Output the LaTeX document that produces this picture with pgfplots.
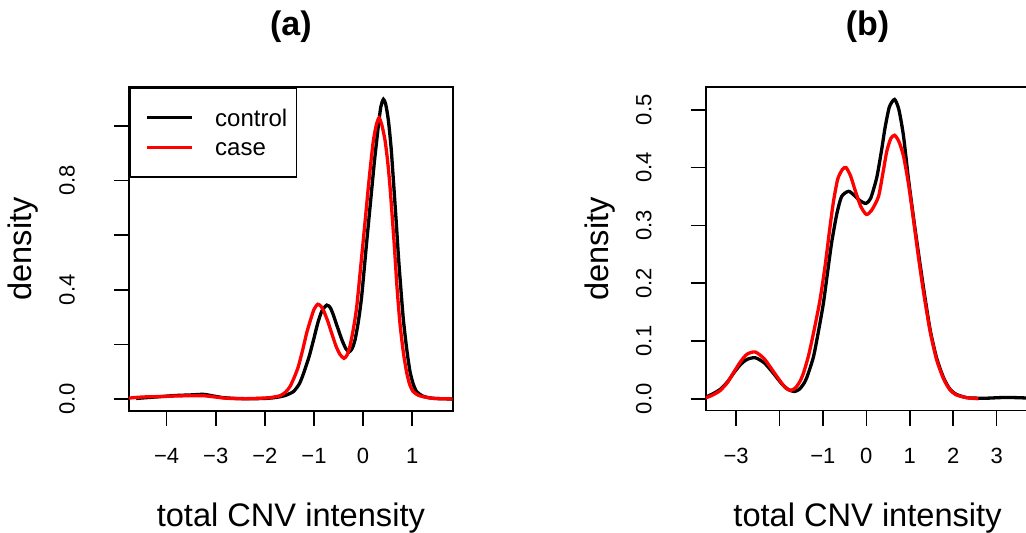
\documentclass[border=0pt]{standalone}
\usepackage{fontspec}
\setmainfont{Liberation Sans}
\usepackage{pgfplots}
\usepackage{pgfplotstable}
\pgfplotsset{compat=1.18}

\newcommand{\tickfont}{\fontsize{22}{22}\selectfont}
\newcommand{\labelfont}{\fontsize{32.6}{33}\selectfont}
\newcommand{\legendfont}{\fontsize{24}{24}\selectfont}
\newcommand{\titlefont}{\bfseries\fontsize{34}{34}\selectfont}

% kernel density estimates of total CNV intensity
\pgfplotstableread{
x y
-4.62 0.002
-4.40 0.005
-4.10 0.009
-3.80 0.013
-3.50 0.015
-3.25 0.017
-3.05 0.011
-2.85 0.005
-2.60 0.002
-2.30 0.001
-2.00 0.002
-1.80 0.005
-1.60 0.012
-1.42 0.027
-1.30 0.055
-1.22 0.090
-1.10 0.155
-1.01 0.216
-0.92 0.280
-0.84 0.322
-0.74 0.344
-0.67 0.335
-0.61 0.310
-0.52 0.262
-0.43 0.216
-0.35 0.184
-0.28 0.173
-0.22 0.186
-0.165 0.216
-0.10 0.280
-0.03 0.375
0.07 0.570
0.15 0.720
0.23 0.870
0.31 1.000
0.36 1.070
0.413 1.098
0.46 1.080
0.515 1.020
0.57 0.920
0.617 0.800
0.67 0.660
0.72 0.520
0.77 0.400
0.82 0.290
0.89 0.180
0.955 0.100
1.02 0.055
1.09 0.027
1.20 0.012
1.30 0.006
1.45 0.002
1.60 0.001
1.83 0.000
}\controlA

\pgfplotstableread{
x y
-4.78 0.003
-4.60 0.006
-4.40 0.008
-4.10 0.009
-3.80 0.011
-3.50 0.012
-3.25 0.012
-3.00 0.007
-2.80 0.003
-2.50 0.001
-2.20 0.002
-1.90 0.005
-1.69 0.012
-1.58 0.025
-1.49 0.045
-1.40 0.080
-1.32 0.118
-1.23 0.180
-1.15 0.241
-1.07 0.290
-1.00 0.328
-0.925 0.347
-0.86 0.340
-0.80 0.322
-0.72 0.285
-0.64 0.241
-0.55 0.193
-0.47 0.163
-0.39 0.149
-0.33 0.160
-0.27 0.192
-0.20 0.255
-0.13 0.338
-0.03 0.520
0.04 0.650
0.107 0.777
0.16 0.870
0.21 0.948
0.27 1.005
0.324 1.030
0.38 1.005
0.446 0.948
0.50 0.870
0.548 0.777
0.60 0.650
0.64 0.550
0.69 0.410
0.75 0.277
0.82 0.170
0.89 0.094
0.95 0.052
1.02 0.027
1.12 0.014
1.23 0.008
1.40 0.003
1.60 0.001
1.83 0.000
}\caseA

\pgfplotstableread{
x y
-3.72 0.002
-3.55 0.008
-3.37 0.016
-3.20 0.029
-3.06 0.044
-2.90 0.059
-2.75 0.068
-2.56 0.071
-2.35 0.062
-2.14 0.044
-1.95 0.026
-1.80 0.016
-1.66 0.0125
-1.55 0.016
-1.45 0.025
-1.37 0.037
-1.22 0.072
-1.10 0.118
-0.99 0.165
-0.90 0.215
-0.80 0.270
-0.68 0.320
-0.57 0.350
-0.41 0.359
-0.28 0.352
-0.15 0.343
-0.01 0.338
0.10 0.347
0.24 0.383
0.35 0.430
0.433 0.470
0.53 0.505
0.65 0.518
0.75 0.500
0.855 0.455
0.97 0.380
1.125 0.292
1.32 0.190
1.47 0.119
1.62 0.070
1.78 0.036
1.92 0.017
2.06 0.008
2.30 0.002
2.55 0.001
2.80 0.001
3.10 0.002
3.40 0.002
3.80 0.001
}\controlB

\pgfplotstableread{
x y
-3.72 0.001
-3.55 0.006
-3.37 0.014
-3.20 0.028
-3.06 0.045
-2.90 0.064
-2.75 0.077
-2.56 0.081
-2.35 0.069
-2.14 0.047
-1.95 0.027
-1.85 0.018
-1.74 0.0145
-1.63 0.019
-1.53 0.030
-1.45 0.044
-1.33 0.075
-1.20 0.120
-1.07 0.170
-0.95 0.230
-0.85 0.290
-0.76 0.340
-0.66 0.380
-0.55 0.397
-0.466 0.400
-0.36 0.385
-0.26 0.361
-0.13 0.333
0.00 0.319
0.12 0.326
0.28 0.350
0.38 0.390
0.47 0.428
0.56 0.450
0.65 0.456
0.75 0.445
0.855 0.420
0.97 0.372
1.085 0.310
1.20 0.245
1.32 0.183
1.47 0.116
1.62 0.067
1.78 0.034
1.92 0.016
2.06 0.007
2.30 0.002
2.58 0.000
}\caseB

\pgfplotsset{
  densitypanel/.style={
    scale only axis,
    width=323.7pt, height=323.4pt,
    axis line style={line width=1.6pt},
    xtick pos=bottom, ytick pos=left,
    tick align=outside,
    major tick length=15pt,
    every tick/.style={black, line width=1.6pt},
    xticklabel style={font=\tickfont, anchor=north, inner sep=0pt, yshift=-22pt},
    yticklabel style={font=\tickfont, xshift=-39pt, rotate=90, anchor=south, inner sep=0pt},
    xlabel style={at={(axis description cs:0.5,-0.3596)}, anchor=base, inner sep=0pt,
                  font=\labelfont},
    ylabel style={at={(axis description cs:-0.2997,0.5)}, anchor=base, inner sep=0pt,
                  font=\labelfont},
    title style={at={(axis description cs:0.5,1.141)}, anchor=base, inner sep=0pt,
                 font=\titlefont},
    xlabel={total CNV intensity},
    ylabel={density},
    clip=true,
  },
  ctrl/.style={black, line width=3.3pt, smooth, tension=0.4, mark=none},
  cse/.style={red, line width=3.3pt, smooth, tension=0.4, mark=none},
}

\begin{document}
\begin{tikzpicture}
% panel (a)
\begin{axis}[densitypanel,
  at={(129pt,122.3pt)}, anchor=south west,
  title={(a)},
  xmin=-4.766, xmax=1.824, ymin=-0.0429, ymax=1.142,
  xtick={-4,-3,-2,-1,0,1},
  xticklabels={−4,−3,−2,−1,0,1},
  ytick={0,0.2,0.4,0.6,0.8,1.0},
  yticklabels={0.0,,0.4,,0.8,},
  legend cell align=left,
  legend image code/.code={\path (-6.4pt,0pt); \draw[#1, line width=3.3pt] (0pt,0pt) -- (45pt,0pt);},
  legend style={at={(axis description cs:0,1)}, anchor=north west,
    draw=black, line width=1.6pt, inner xsep=9.4pt, inner ysep=15pt,
    column sep=21.3pt, row sep=0pt, font=\legendfont,
    nodes={inner sep=0pt, text height=23.1pt, text depth=6.3pt}},
]
\addplot[ctrl] table[x=x, y=y] {\controlA};
\addlegendentry{control}
\addplot[cse] table[x=x, y=y] {\caseA};
\addlegendentry{case}
\end{axis}

% panel (b)
\begin{axis}[densitypanel,
  at={(705.7pt,122.3pt)}, anchor=south west,
  title={(b)},
  xmin=-3.70, xmax=3.755, ymin=-0.0207, ymax=0.539,
  xtick={-3,-2,-1,0,1,2,3},
  xticklabels={−3,,−1,0,1,2,3},
  ytick={0,0.1,0.2,0.3,0.4,0.5},
  yticklabels={0.0,0.1,0.2,0.3,0.4,0.5},
]
\addplot[ctrl] table[x=x, y=y] {\controlB};
\addplot[cse] table[x=x, y=y] {\caseB};
\end{axis}

\pgfresetboundingbox
\path[use as bounding box] (0pt,0pt) rectangle (1026pt,533pt);
\end{tikzpicture}
\end{document}
